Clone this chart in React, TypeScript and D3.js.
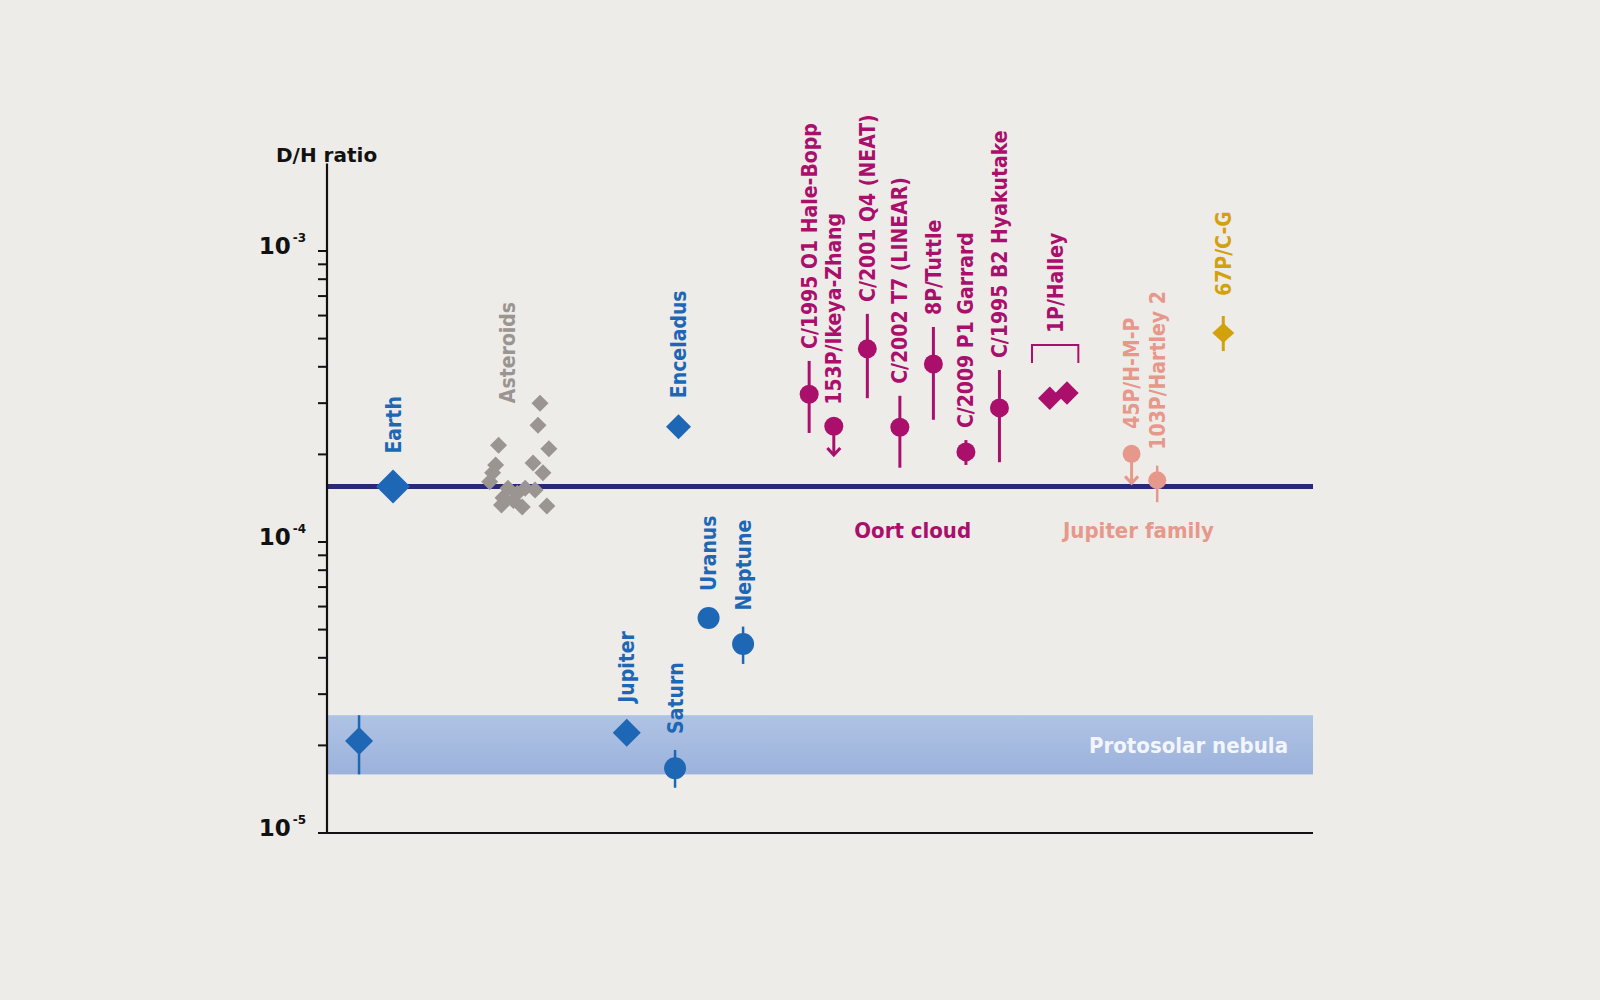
import React from 'react';
import * as d3 from 'd3';

// D/H ratio of water in the Solar System (log scale)
const yDomain: [number, number] = [1e-5, 1e-3];
const yAxisTop = 2.0e-3;
const earthOceans = 1.55e-4;
const nebulaRange: [number, number] = [1.59e-5, 2.54e-5];

// slot = position along the (unitless) horizontal axis, 0..100
const solarSystem = [
  { name: '', slot: 3.25, dh: 2.07e-5, lo: 1.59e-5, hi: 2.54e-5, kind: 'diamond' },
  { name: 'Earth', slot: 6.7, dh: 1.55e-4, kind: 'diamond' },
  { name: 'Jupiter', slot: 30.4, dh: 2.21e-5, kind: 'diamond' },
  { name: 'Saturn', slot: 35.3, dh: 1.67e-5, lo: 1.43e-5, hi: 1.93e-5, kind: 'circle' },
  { name: 'Enceladus', slot: 35.65, dh: 2.49e-4, kind: 'diamond' },
  { name: 'Uranus', slot: 38.7, dh: 5.48e-5, kind: 'circle' },
  { name: 'Neptune', slot: 42.2, dh: 4.46e-5, lo: 3.81e-5, hi: 5.12e-5, kind: 'circle' },
];

const asteroidSlots = [21.6, 21.4, 17.4, 22.5, 20.9, 17.1, 21.9, 16.8, 16.5, 18.35, 20.1, 21.1, 19.3, 17.85, 18.9, 17.7, 19.8, 22.3];
const asteroidDH = [3.0e-4, 2.52e-4, 2.15e-4, 2.09e-4, 1.87e-4, 1.84e-4, 1.73e-4, 1.73e-4, 1.61e-4, 1.53e-4, 1.53e-4, 1.51e-4, 1.47e-4, 1.42e-4, 1.39e-4, 1.34e-4, 1.32e-4, 1.33e-4];
const asteroidLabelSlot = 18.35;

const oortComets = [
  { name: 'C/1995 O1 Hale-Bopp', slot: 48.9, dh: 3.22e-4, lo: 2.37e-4, hi: 4.19e-4 },
  { name: '153P/Ikeya-Zhang', slot: 51.4, dh: 2.5e-4, limit: 1.99e-4 },
  { name: 'C/2001 Q4 (NEAT)', slot: 54.8, dh: 4.61e-4, lo: 3.12e-4, hi: 6.08e-4 },
  { name: 'C/2002 T7 (LINEAR)', slot: 58.1, dh: 2.48e-4, lo: 1.8e-4, hi: 3.18e-4 },
  { name: '8P/Tuttle', slot: 61.5, dh: 4.09e-4, lo: 2.63e-4, hi: 5.48e-4 },
  { name: 'C/2009 P1 Garrard', slot: 64.8, dh: 2.04e-4, lo: 1.84e-4, hi: 2.24e-4 },
  { name: 'C/1995 B2 Hyakutake', slot: 68.2, dh: 2.89e-4, lo: 1.88e-4, hi: 3.9e-4 },
];

const halleySlots = [73.3, 75.05];
const halleyDH = [3.12e-4, 3.25e-4];
const halleyBracketSlots: [number, number] = [71.5, 76.2];
const halleyBracketDH: [number, number] = [4.12e-4, 4.75e-4];

const jupiterFamily = [
  { name: '45P/H-M-P', slot: 81.6, dh: 2.01e-4, limit: 1.59e-4 },
  { name: '103P/Hartley 2', slot: 84.2, dh: 1.63e-4, lo: 1.37e-4, hi: 1.83e-4 },
];

const rosetta = { name: '67P/C-G', slot: 90.9, dh: 5.23e-4, lo: 4.53e-4, hi: 5.98e-4 };

const groupLabels = [
  { text: 'Oort cloud', slot: 59.4, group: 'oort' },
  { text: 'Jupiter family', slot: 82.3, group: 'jfc' },
];

const colors = {
  bg: '#eeece9',
  blue: '#1d67b5',
  navy: '#2a2878',
  gray: '#9b9592',
  oort: '#ab0f6c',
  jfc: '#e6988a',
  gold: '#d3a10c',
};

const FONT = "'DejaVu Sans', 'Liberation Sans', sans-serif";

const diamond = (x: number, y: number, w: number, h: number = w) =>
  `M${x},${y - h}L${x + w},${y}L${x},${y + h}L${x - w},${y}Z`;

export default function App() {
  const width = 1600;
  const height = 1000;

  const x = d3.scaleLinear().domain([0, 100]).range([327, 1313]);
  const y = d3.scaleLog().domain(yDomain).range([833, 251]);

  const x0 = x.range()[0];
  const x1 = x.range()[1];

  const labelGap = 12;

  const vLabel = (key: string, text: string, cx: number, bottom: number, fill: string) => (
    <text
      key={key}
      transform={`translate(${cx},${bottom}) rotate(-90)`}
      dy="0.36em"
      fill={fill}
      fontFamily={FONT}
      fontWeight="bold"
      fontStretch="condensed"
      fontSize={21}
    >
      {text}
    </text>
  );

  const errBar = (key: string, cx: number, lo: number, hi: number, color: string, w = 2.5) => (
    <line key={key} x1={cx} x2={cx} y1={y(lo)} y2={y(hi)} stroke={color} strokeWidth={w} />
  );

  const limitArrow = (key: string, cx: number, from: number, to: number, color: string) => {
    const yEnd = y(to);
    return (
      <g key={key} stroke={color} strokeWidth={3} fill="none">
        <line x1={cx} x2={cx} y1={y(from)} y2={yEnd} />
        <path d={`M${cx - 6.5},${yEnd - 7}L${cx},${yEnd}L${cx + 6.5},${yEnd - 7}`} />
      </g>
    );
  };

  const ticks = y.ticks();
  const majors = [-5, -4, -3];

  return (
    <div style={{ position: 'fixed', left: 0, top: 0 }}>
      <svg width={width} height={height} viewBox={`0 0 ${width} ${height}`}>
        <defs>
          <linearGradient id="nebula" x1="0" y1="0" x2="0" y2="1">
            <stop offset="0" stopColor="#afc3e4" />
            <stop offset="1" stopColor="#9cb2db" />
          </linearGradient>
        </defs>
        <rect width={width} height={height} fill={colors.bg} />

        {/* protosolar nebula band */}
        <rect
          x={x0}
          y={y(nebulaRange[1])}
          width={x1 - x0}
          height={y(nebulaRange[0]) - y(nebulaRange[1])}
          fill="url(#nebula)"
        />
        <text
          x={x1 - 25}
          y={(y(nebulaRange[0]) + y(nebulaRange[1])) / 2}
          dy="0.36em"
          textAnchor="end"
          fill="#f3f5fa"
          fontFamily={FONT}
          fontWeight="bold"
          fontStretch="condensed"
          fontSize={22}
        >
          Protosolar nebula
        </text>

        {/* Earth's oceans reference line */}
        <line x1={x0} x2={x1} y1={y(earthOceans)} y2={y(earthOceans)} stroke={colors.navy} strokeWidth={5} />

        {/* axes */}
        <line x1={x0} x2={x0} y1={y(yDomain[0])} y2={y(yAxisTop)} stroke="#111" strokeWidth={2.2} />
        <line x1={x0 - 8} x2={x1} y1={y(yDomain[0])} y2={y(yDomain[0])} stroke="#111" strokeWidth={2.2} />
        {ticks.map((t, i) => (
          <line key={`t${i}`} x1={x0 - 9} x2={x0} y1={y(t)} y2={y(t)} stroke="#111" strokeWidth={2} />
        ))}
        {majors.map((e) => (
          <text
            key={`m${e}`}
            x={x0 - 21}
            y={y(Math.pow(10, e)) + 3}
            textAnchor="end"
            fill="#111"
            fontFamily={FONT}
            fontWeight="bold"
            fontSize={23}
          >
            10
            <tspan dx={2} dy={-12} fontSize={12}>{`-${-e}`}</tspan>
          </text>
        ))}
        <text x={276} y={162} fill="#111" fontFamily={FONT} fontWeight="bold" fontSize={20}>
          D/H ratio
        </text>

        {/* solar system bodies */}
        {solarSystem.map((d, i) => {
          const cx = x(d.slot);
          const cy = y(d.dh);
          const r = d.name === 'Earth' ? 17 : d.kind === 'diamond' ? (d.name === 'Enceladus' ? 12.5 : 14) : 11;
          const top = Math.min(cy - r, d.hi ? y(d.hi) : Infinity);
          return (
            <g key={`s${i}`}>
              {d.lo !== undefined && errBar(`se${i}`, cx, d.lo, d.hi as number, colors.blue, 2.5)}
              {d.kind === 'diamond' ? (
                <path d={diamond(cx, cy, r)} fill={colors.blue} />
              ) : (
                <circle cx={cx} cy={cy} r={r} fill={colors.blue} />
              )}
              {d.name && vLabel(`sl${i}`, d.name, cx, top - labelGap - 4, colors.blue)}
            </g>
          );
        })}

        {/* asteroids */}
        {asteroidDH.map((v, i) => (
          <path key={`a${i}`} d={diamond(x(asteroidSlots[i]), y(v), 8.5)} fill={colors.gray} />
        ))}
        {vLabel('al', 'Asteroids', x(asteroidLabelSlot), y(d3.max(asteroidDH) as number), colors.gray)}

        {/* Oort cloud comets */}
        {oortComets.map((d, i) => {
          const cx = x(d.slot);
          const cy = y(d.dh);
          const r = 9.5;
          const top = Math.min(cy - r, d.hi ? y(d.hi) : Infinity);
          return (
            <g key={`o${i}`}>
              {d.lo !== undefined && errBar(`oe${i}`, cx, d.lo, d.hi as number, colors.oort, 3)}
              {d.limit !== undefined && limitArrow(`oa${i}`, cx, d.dh, d.limit, colors.oort)}
              <circle cx={cx} cy={cy} r={r} fill={colors.oort} />
              {vLabel(`ol${i}`, d.name, cx, top - labelGap, colors.oort)}
            </g>
          );
        })}

        {/* 1P/Halley */}
        {halleyDH.map((v, i) => (
          <path key={`h${i}`} d={diamond(x(halleySlots[i]), y(v), 11.7)} fill={colors.oort} />
        ))}
        <path
          d={`M${x(halleyBracketSlots[0])},${y(halleyBracketDH[0])}V${y(halleyBracketDH[1])}H${x(halleyBracketSlots[1])}V${y(halleyBracketDH[0])}`}
          fill="none"
          stroke={colors.oort}
          strokeWidth={2}
        />
        {vLabel(
          'hl',
          '1P/Halley',
          (x(halleyBracketSlots[0]) + x(halleyBracketSlots[1])) / 2,
          y(halleyBracketDH[1]) - labelGap,
          colors.oort
        )}

        {/* Jupiter-family comets */}
        {jupiterFamily.map((d, i) => {
          const cx = x(d.slot);
          const cy = y(d.dh);
          const r = 9;
          const top = Math.min(cy - r, d.hi ? y(d.hi) : Infinity);
          return (
            <g key={`j${i}`}>
              {d.lo !== undefined && errBar(`je${i}`, cx, d.lo, d.hi as number, colors.jfc, 2.5)}
              {d.limit !== undefined && limitArrow(`ja${i}`, cx, d.dh, d.limit, colors.jfc)}
              <circle cx={cx} cy={cy} r={r} fill={colors.jfc} />
              {vLabel(`jl${i}`, d.name, cx, top - labelGap - 4, colors.jfc)}
            </g>
          );
        })}

        {/* 67P/Churyumov-Gerasimenko */}
        {errBar('re', x(rosetta.slot), rosetta.lo, rosetta.hi, colors.gold, 3)}
        <path d={diamond(x(rosetta.slot), y(rosetta.dh), 11, 10)} fill={colors.gold} />
        {vLabel('rl', rosetta.name, x(rosetta.slot), y(rosetta.hi) - labelGap - 8, colors.gold)}

        {/* group labels */}
        {groupLabels.map((g) => (
          <text
            key={g.text}
            x={x(g.slot)}
            y={y(1e-4) - 4}
            textAnchor="middle"
            fill={g.group === 'oort' ? colors.oort : colors.jfc}
            fontFamily={FONT}
            fontWeight="bold"
            fontStretch="condensed"
            fontSize={22}
          >
            {g.text}
          </text>
        ))}
      </svg>
    </div>
  );
}
